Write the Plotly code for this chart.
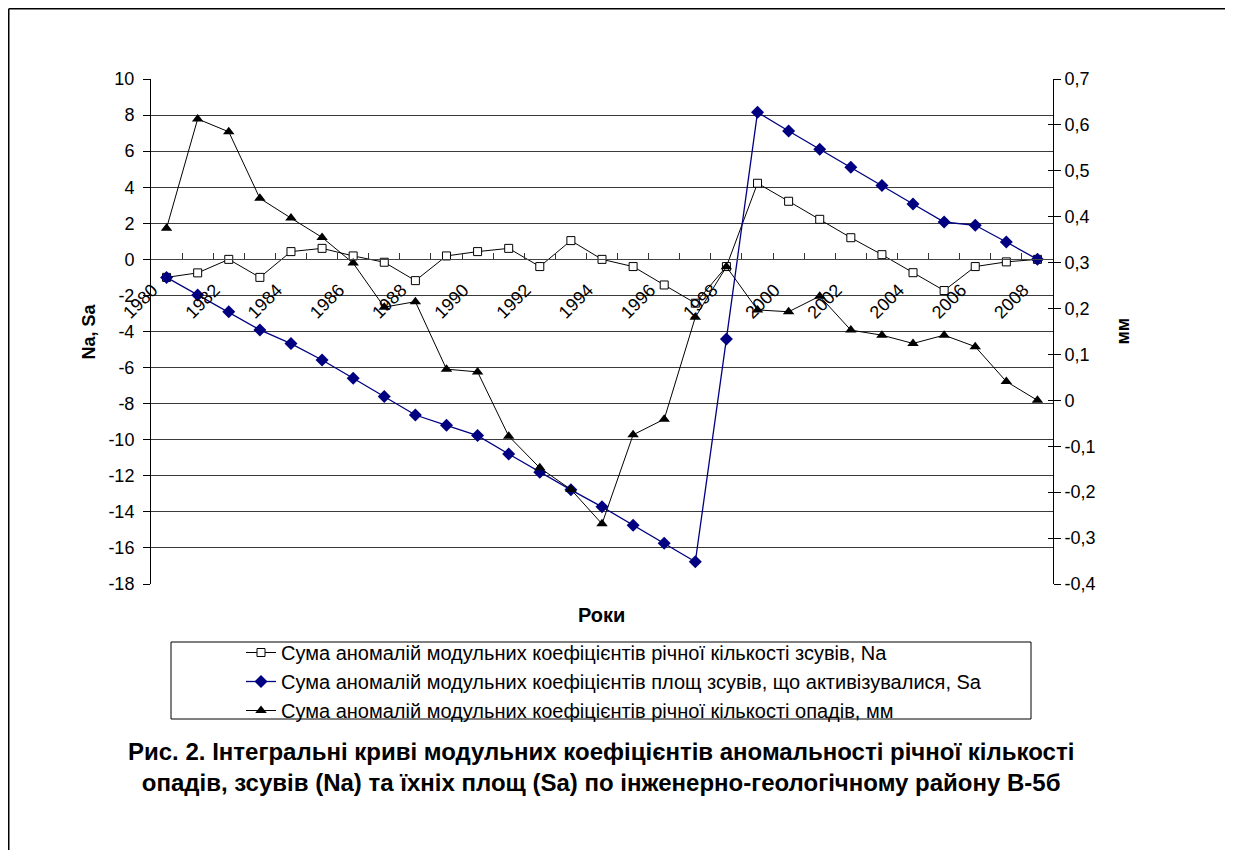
import plotly.graph_objects as go

# ---------------- data ----------------
years = list(range(1980, 2009))
na_values = [-1.0, -0.75, 0.0, -1.0, 0.43, 0.61, 0.19, -0.16, -1.18, 0.19,
             0.43, 0.61, -0.4, 1.04, 0.0, -0.4, -1.42, -2.43, -0.4, 4.22,
             3.22, 2.22, 1.2, 0.26, -0.74, -1.73, -0.4, -0.14, 0.0]
sa_values = [-1.0, -1.97, -2.9, -3.91, -4.67, -5.58, -6.59, -7.61, -8.63, -9.2,
             -9.77, -10.79, -11.8, -12.78, -13.72, -14.74, -15.74, -16.77, -4.41, 8.15,
             7.12, 6.1, 5.1, 4.09, 3.07, 2.07, 1.89, 0.96, 0.0]
precip_values = [0.375, 0.613, 0.585, 0.44, 0.397, 0.355, 0.299, 0.203, 0.215, 0.068,
                 0.062, -0.078, -0.147, -0.194, -0.269, -0.075, -0.041, 0.181, 0.291, 0.197,
                 0.193, 0.227, 0.153, 0.142, 0.124, 0.142, 0.117, 0.041, 0.0]

x_label_years = years[::2]
x_labels = [str(y) for y in x_label_years]
x_boundaries = [y - 0.5 for y in years] + [years[-1] + 0.5]
left_ticks = list(range(-18, 11, 2))
left_labels = [str(v) for v in left_ticks]
right_ticks = [-0.4, -0.3, -0.2, -0.1, 0.0, 0.1, 0.2, 0.3, 0.4, 0.5, 0.6, 0.7]
right_labels = ["-0,4", "-0,3", "-0,2", "-0,1", "0", "0,1", "0,2", "0,3", "0,4", "0,5", "0,6", "0,7"]

name_na = "Сума аномалій модульних коефіцієнтів річної кількості зсувів, Na"
name_sa = "Сума аномалій модульних коефіцієнтів площ зсувів, що активізувалися, Sa"
name_pr = "Сума аномалій модульних коефіцієнтів річної кількості опадів, мм"
title_text = ("<b>Рис. 2. Інтегральні криві модульних коефіцієнтів аномальності річної кількості<br>"
              "опадів, зсувів (Na) та їхніх площ (Sa) по інженерно-геологічному району В-5б</b>")

# ---------------- layout geometry ----------------
# the page body has an 8px margin, so the figure is drawn 8px in from the window edge
OFF = 8
WIN_W, WIN_H = 1234, 859
W, H = WIN_W - 2 * OFF, WIN_H - 2 * OFF
PL, PR, PT, PB = 151, 1053, 79, 584   # plot area in window px
FONT = "Liberation Sans, Arial, sans-serif"
NAVY = "#000080"

def px_x(px):
    return (px - PL) / (PR - PL)

def px_y(py):
    return (PB - py) / (PB - PT)

left_range = [-18, 10]
right_range = [-0.4, 0.7]
x_range = [years[0] - 0.5, years[-1] + 0.5]
zero_pos = (0 - left_range[0]) / (left_range[1] - left_range[0])

fig = go.Figure()
fig.add_trace(go.Scatter(
    x=years, y=na_values, name=name_na, mode="lines+markers",
    line=dict(color="black", width=1),
    marker=dict(symbol="square", size=8, color="white", line=dict(color="black", width=1)),
))
fig.add_trace(go.Scatter(
    x=years, y=sa_values, name=name_sa, mode="lines+markers",
    line=dict(color=NAVY, width=1.3),
    marker=dict(symbol="diamond", size=10, color=NAVY, line=dict(color=NAVY, width=0)),
))
fig.add_trace(go.Scatter(
    x=years, y=precip_values, name=name_pr, mode="lines+markers", yaxis="y2",
    line=dict(color="black", width=1),
    marker=dict(symbol="triangle-up", size=10, color="black"),
))
# empty helper traces so that overlay axes (crossing tick marks) are drawn
fig.add_trace(go.Scatter(x=[], y=[], xaxis="x2", yaxis="y", showlegend=False, hoverinfo="skip"))
fig.add_trace(go.Scatter(x=[], y=[], xaxis="x", yaxis="y3", showlegend=False, hoverinfo="skip"))

fig.update_layout(
    width=W, height=H,
    margin=dict(l=PL - OFF, r=(W + OFF) - PR, t=PT - OFF, b=(H + OFF) - PB, autoexpand=False),
    paper_bgcolor="white", plot_bgcolor="white",
    font=dict(family=FONT, size=18, color="black"),
    showlegend=True,
    xaxis=dict(
        range=x_range, anchor="free", position=zero_pos,
        tickmode="array", tickvals=x_label_years, ticktext=x_labels,
        tickangle=-45, ticks="outside", ticklen=0,
        ticklabelshift=-14, ticklabelstandoff=12,
        showgrid=False, zeroline=False, showline=True, linecolor="#444", linewidth=1,
        tickfont=dict(size=18),
    ),
    xaxis2=dict(
        range=x_range, anchor="free", position=zero_pos, overlaying="x",
        tickmode="array", tickvals=x_boundaries, ticks="inside", ticklen=6, tickcolor="#333",
        showticklabels=False, showgrid=False, zeroline=False, showline=False,
    ),
    xaxis3=dict(
        range=x_range, anchor="free", position=zero_pos, overlaying="x",
        tickmode="array", tickvals=x_boundaries, ticks="outside", ticklen=7, tickcolor="#333",
        showticklabels=False, showgrid=False, zeroline=False, showline=False,
    ),
    yaxis=dict(
        range=left_range, anchor="x", tickmode="array", tickvals=left_ticks, ticktext=left_labels,
        ticks="outside", ticklen=7, tickcolor="black", ticklabelstandoff=5,
        showgrid=True, gridcolor="#3a3a3a", gridwidth=1,
        zeroline=False, showline=True, linecolor="black", linewidth=1,
        tickfont=dict(size=18),
    ),
    yaxis2=dict(
        range=right_range, overlaying="y", side="right", anchor="free", position=1,
        tickmode="array", tickvals=right_ticks, ticktext=right_labels,
        ticks="outside", ticklen=7, tickcolor="black",
        showgrid=False, zeroline=False, showline=True, linecolor="black", linewidth=1,
        tickfont=dict(size=18),
    ),
    yaxis3=dict(
        range=right_range, overlaying="y", side="right", anchor="free", position=1,
        tickmode="array", tickvals=right_ticks, ticks="inside", ticklen=5, tickcolor="black",
        showticklabels=False, showgrid=False, zeroline=False, showline=False,
    ),
    legend=dict(
        x=px_x(241), y=px_y(633), xanchor="left", yanchor="top",
        bgcolor="rgba(0,0,0,0)", borderwidth=0,
        font=dict(family=FONT, size=20), itemwidth=30, tracegroupgap=0,
    ),
    annotations=[
        dict(text="<b>Na, Sa</b>", xref="paper", yref="paper", x=px_x(88), y=0.5,
             textangle=-90, showarrow=False, font=dict(size=18), xanchor="center", yanchor="middle"),
        dict(text="<b>мм</b>", xref="paper", yref="paper", x=px_x(1122), y=0.5,
             textangle=-90, showarrow=False, font=dict(size=18), xanchor="center", yanchor="middle"),
        dict(text="<b>Роки</b>", xref="paper", yref="paper", x=px_x(601), y=px_y(615),
             showarrow=False, font=dict(size=20), xanchor="center", yanchor="middle"),
        dict(text=title_text, xref="paper", yref="paper", x=px_x(601), y=px_y(767),
             showarrow=False, font=dict(size=24), xanchor="center", yanchor="middle", align="center"),
    ],
    shapes=[
        dict(type="rect", xref="paper", yref="paper",
             x0=px_x(171), x1=px_x(1031), y0=px_y(719), y1=px_y(642),
             line=dict(color="black", width=1), fillcolor="rgba(0,0,0,0)"),
        # outer frame: only its top and left edges fall inside the picture
        dict(type="line", xref="paper", yref="paper",
             x0=px_x(OFF + 0.75), x1=px_x(WIN_W - OFF - 1), y0=px_y(OFF + 0.75), y1=px_y(OFF + 0.75),
             line=dict(color="black", width=1.5)),
        dict(type="line", xref="paper", yref="paper",
             x0=px_x(OFF + 0.75), x1=px_x(OFF + 0.75), y0=px_y(OFF + 0.75), y1=px_y(WIN_H - OFF - 1),
             line=dict(color="black", width=1.5)),
    ],
)

fig.write_html("out.html")
